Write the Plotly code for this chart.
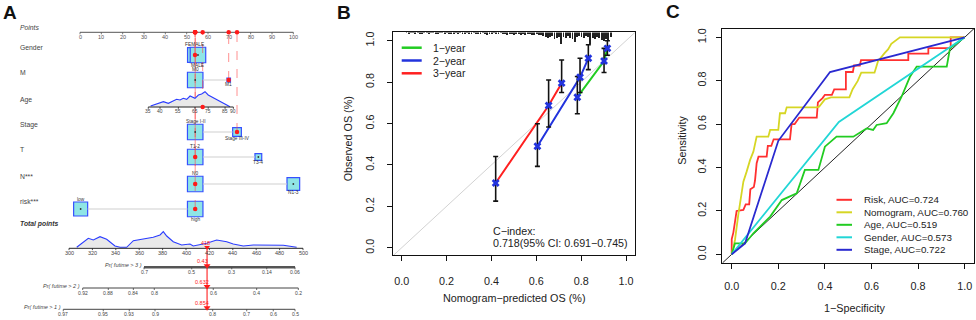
import math
import plotly.graph_objects as go

W, H = 976, 320
FONT = "Liberation Sans, Arial, Helvetica, sans-serif"

# ======================= DATA =======================
# ---- Panel A: nomogram ----
points_ticks = [0, 10, 20, 30, 40, 50, 60, 70, 80, 90, 100]

gender_levels = ["FEMALE", "MALE"]
gender_pts = [53.9, 55.3]
gender_freq = [0.48, 0.52]
m_levels = ["M0", "M1"]
m_pts = [54.0, 69.7]
m_freq = [0.95, 0.05]
stage_levels = ["Stage I-II", "Stage III-IV"]
stage_pts = [54.0, 73.6]
stage_freq = [0.76, 0.24]
t_levels = ["T1-2", "T3-4"]
t_pts = [54.0, 83.6]
t_freq = [0.84, 0.16]
n_levels = ["N0", "N1-3"]
n_pts = [54.0, 100.0]
n_freq = [0.60, 0.40]
risk_levels = ["low", "high"]
risk_pts = [0.3, 54.0]
risk_freq = [0.45, 0.55]

age_tick_labels = ["35", "40", "55", "65", "75", "85", "90"]
age_tick_pts = [32.0, 37.5, 46.1, 53.9, 60.1, 68.0, 71.9]
age_density_pts = [33.1, 36.7, 39.1, 41.4, 43.7, 45.3, 46.9, 48.4, 50.0, 51.6,
                   53.9, 55.5, 57.0, 58.6, 60.1, 61.7, 64.1, 66.4, 68.8, 70.3]
age_density = [1.0, 3.7, 5.3, 3.7, 6.0, 7.7, 7.0, 8.7, 7.7, 11.0,
               8.7, 12.0, 13.0, 15.3, 12.0, 10.3, 7.7, 5.3, 2.0, 0.3]

# patient profile (index of chosen level) and age points
patient_choice = {"Gender": 0, "M": 1, "Stage": 1, "T": 0, "N***": 0, "risk***": 1}
patient_age_pts = 57.5

total_points_ticks = [300, 320, 340, 360, 380, 400, 420, 440, 460, 480, 500]
total_density_tp = [306.6, 312.2, 316.5, 320.8, 326.5, 332.2, 339.3, 343.6, 349.3, 355.0,
                    363.5, 372.0, 377.8, 380.6, 383.5, 389.1, 396.3, 403.4, 406.2, 412.0,
                    417.7, 426.2, 434.8, 440.4, 449.0, 457.5, 469.0, 483.2, 494.6]
total_density = [0.0, 5.6, 9.0, 7.3, 10.6, 8.0, 1.3, 0.0, 0.0, 6.6,
                 8.0, 10.0, 12.3, 15.6, 11.3, 5.6, 2.3, 3.3, 1.3, 2.3,
                 4.0, 7.3, 5.6, 3.3, 1.3, 2.3, 2.0, 2.0, 0.0]
patient_total = 418

pr3_labels = ["0.7", "0.5", "0.3", "0.14", "0.06"]
pr3_tp = [364.1, 404.9, 439.1, 469.0, 493.2]
pr2_labels = ["0.92", "0.88", "0.84", "0.8", "0.6", "0.4", "0.2"]
pr2_tp = [311.7, 333.6, 355.0, 372.9, 423.3, 460.4, 496.0]
pr1_labels = ["0.97", "0.95", "0.93", "0.9", "0.8", "0.7", "0.6", "0.5"]
pr1_tp = [295.1, 329.3, 351.5, 373.5, 422.8, 451.9, 474.6, 493.2]
patient_pr = ["0.43", "0.632", "0.854"]

# ---- Panel B: calibration ----
cal1_pred = [0.783, 0.902, 0.917]
cal1_obs = [0.727, 0.902, 0.963]
cal1_lo = [0.647, 0.846, 0.930]
cal1_hi = [0.827, 0.963, 1.000]
cal2_pred = [0.605, 0.795, 0.832]
cal2_obs = [0.490, 0.823, 0.915]
cal2_lo = [0.393, 0.750, 0.860]
cal2_hi = [0.599, 0.915, 0.980]
cal3_pred = [0.419, 0.655, 0.713]
cal3_obs = [0.313, 0.687, 0.795]
cal3_lo = [0.225, 0.583, 0.750]
cal3_hi = [0.441, 0.810, 0.907]
rug_counts = [1, 2, 1, 1, 2, 1, 2, 2, 1, 1,
              2, 1, 1, 2, 2, 1, 1, 2, 1, 2,
              2, 2, 1, 2, 1, 2, 2, 1, 2, 2,
              1, 2, 2, 2, 1, 2, 3, 2, 2, 1,
              2, 2, 1, 2, 2, 3, 2, 2, 3, 2,
              2, 3, 2, 3, 2, 2, 3, 3, 2, 3,
              3, 4, 5, 6, 5, 4, 7, 6, 5, 12,
              5, 6, 4, 6, 7, 10, 5, 4, 5, 6,
              4, 5, 12, 6, 7, 5, 6, 8, 9, 7,
              8, 5]
rug_bins = [round(0.02 + 0.01 * i, 2) for i in range(len(rug_counts))]
cindex_lines = ["C\u2212index:", "0.718(95% CI: 0.691\u22120.745)"]

# ---- Panel C: ROC ----
roc_names = ["Risk, AUC=0.724", "Nomogram, AUC=0.760", "Age, AUC=0.519",
             "Gender, AUC=0.573", "Stage, AUC=0.722"]
risk_fpr = [0, 0, 0.007, 0.014, 0.021, 0.05, 0.06, 0.075, 0.08, 0.095, 0.1, 0.107, 0.115,
            0.15, 0.155, 0.17, 0.18, 0.25, 0.257, 0.27, 0.29, 0.365, 0.37, 0.39, 0.4, 0.43,
            0.44, 0.49, 0.49, 0.52, 0.525, 0.55, 0.555, 0.758, 0.758, 0.844, 0.844, 0.94,
            0.94, 1.0]
risk_tpr = [0, 0.07, 0.1, 0.16, 0.2, 0.205, 0.23, 0.23, 0.3, 0.31, 0.34, 0.42, 0.45,
            0.45, 0.5, 0.5, 0.53, 0.53, 0.6, 0.6, 0.63, 0.63, 0.7, 0.72, 0.735, 0.735,
            0.76, 0.76, 0.84, 0.84, 0.87, 0.87, 0.895, 0.895, 0.925, 0.925, 0.95, 0.95,
            1.0, 1.0]
nomo_fpr = [0, 0.014, 0.028, 0.043, 0.05, 0.064, 0.079, 0.093, 0.107, 0.157, 0.165, 0.2,
            0.207, 0.229, 0.236, 0.365, 0.375, 0.4, 0.426, 0.505, 0.519, 0.541, 0.556,
            0.613, 0.628, 0.657, 0.671, 0.685, 0.707, 0.722, 1.0]
nomo_tpr = [0, 0.066, 0.181, 0.281, 0.335, 0.381, 0.435, 0.473, 0.542, 0.542, 0.573,
            0.573, 0.65, 0.65, 0.677, 0.677, 0.68, 0.714, 0.723, 0.723, 0.761, 0.799,
            0.837, 0.837, 0.89, 0.928, 0.944, 0.97, 0.989, 1.0, 1.0]
age_fpr = [0, 0.014, 0.057, 0.093, 0.165, 0.215, 0.279, 0.314, 0.372, 0.4, 0.45, 0.465,
           0.522, 0.579, 0.607, 0.622, 0.665, 0.694, 0.729, 0.765, 0.794, 0.923, 0.937, 1.0]
age_tpr = [0, 0.05, 0.05, 0.097, 0.174, 0.25, 0.281, 0.389, 0.389, 0.496, 0.542, 0.542,
           0.542, 0.58, 0.573, 0.596, 0.604, 0.65, 0.726, 0.818, 0.865, 0.865, 0.949, 1.0]
gender_fpr = [0, 0.03, 0.46, 1.0]
gender_tpr = [0, 0.04, 0.61, 1.0]
stage_fpr = [0, 0.057, 0.2, 0.422, 1.0]
stage_tpr = [0, 0.05, 0.523, 0.84, 1.0]

# ======================= STYLE / LAYOUT =======================
C_RED, C_YEL, C_GRN, C_CYA, C_BLU = "#ff3030", "#d6d624", "#22cc22", "#22d6d6", "#2a2ad0"
BOX_FILL, BOX_LINE = "#8fe5e5", "#3650ff"
PINK = "rgba(255,70,70,0.6)"
TXT = 10.8


def pxx(px):
    return px / W


def pxy(py):
    return 1 - py / H


# panel A calibration: points -> pixel, total points -> pixel
PT_PX0, PT_PX_PER = 80.0, 2.1333
TP_PX0, TP_PX_PER = 69.0, 1.17


def px_to_pts(px):
    return (px - PT_PX0) / PT_PX_PER


def tp_to_pts(tp):
    return px_to_pts(TP_PX0 + (tp - 300) * TP_PX_PER)


PXU = 1.0 / PT_PX_PER  # one pixel in points units

ROW_Y = {"Points": 32.3, "Gender": 55.0, "M": 80.0, "Age": 107.0, "Stage": 132.0,
         "T": 157.0, "N***": 184.0, "risk***": 209.0, "Total": 248.3,
         "Pr3": 267.3, "Pr2": 288.0, "Pr1": 309.3}
LABEL_X = 19
BOX_MAX = 15.5

fig = go.Figure()
ann = []
shapes = []


def text(x, y, s, size=11, color="#222", xref="paper", yref="paper",
         xanchor="center", yanchor="middle", angle=0):
    ann.append(dict(x=x, y=y, xref=xref, yref=yref, text=s, showarrow=False,
                    font=dict(size=size, color=color, family=FONT),
                    xanchor=xanchor, yanchor=yanchor, textangle=angle, borderpad=0))


def a_line(xs, ys, color, width=1.0, dash="solid"):
    fig.add_trace(go.Scatter(x=xs, y=ys, mode="lines", xaxis="x", yaxis="y",
                             line=dict(color=color, width=width, dash=dash),
                             hoverinfo="skip", showlegend=False))


def a_marker(xs, ys, color, size=4.5, symbol="circle"):
    fig.add_trace(go.Scatter(x=xs, y=ys, mode="markers", xaxis="x", yaxis="y",
                             marker=dict(color=color, size=size, symbol=symbol, line=dict(width=0)),
                             hoverinfo="skip", showlegend=False))


def a_text(x, y, s, size=5.5, color="#444", xanchor="center"):
    text(x, y, s, size=size, color=color, xref="x", yref="y", xanchor=xanchor)


# ---------------- Panel A ----------------
text(pxx(9.7), pxy(12.5), "<b>A</b>", size=19, color="#111")

# Points axis
py = ROW_Y["Points"]
text(pxx(LABEL_X), pxy(py - 4.5), "<i>Points</i>", size=6.8, color="#444", xanchor="left")
a_line([points_ticks[0], points_ticks[-1]], [py, py], "#555", 1)
for t in points_ticks:
    a_line([t, t], [py, py + 2], "#555", 0.8)
    a_text(t, py + 5, str(t), size=5.5, color="#555")

# dashed pink guide lines from each chosen value to the Points axis
cat_rows = [("Gender", gender_levels, gender_pts, gender_freq),
            ("M", m_levels, m_pts, m_freq),
            ("Stage", stage_levels, stage_pts, stage_freq),
            ("T", t_levels, t_pts, t_freq),
            ("N***", n_levels, n_pts, n_freq),
            ("risk***", risk_levels, risk_pts, risk_freq)]
guide_pts = []
for name, levels, pts, freq in cat_rows:
    p = pts[patient_choice[name]]
    a_line([p, p], [ROW_Y[name], py], PINK, 1, "dash")
    guide_pts.append(p)
a_line([patient_age_pts, patient_age_pts], [ROW_Y["Age"], py], PINK, 1, "dash")
guide_pts.append(patient_age_pts)

# row labels
row_label = {"Gender": "Gender", "M": "M", "Age": "Age", "Stage": "Stage", "T": "T",
             "N***": "N***", "risk***": "risk***"}
for k, lab in row_label.items():
    text(pxx(LABEL_X), pxy(ROW_Y[k] - 7.5), lab, size=6.8, color="#444", xanchor="left")

# categorical rows: boxes
for name, levels, pts, freq in cat_rows:
    y = ROW_Y[name]
    fmax = max(freq)
    sides = [BOX_MAX * math.sqrt(f / fmax) for f in freq]
    if pts[1] - pts[0] > (sides[0] + sides[1]) * PXU / 2:
        a_line([pts[0] + sides[0] / 2 * PXU, pts[1] - sides[1] / 2 * PXU], [y, y], "#cfcfcf", 1)
    for i, (lev, p, s) in enumerate(zip(levels, pts, sides)):
        shapes.append(dict(type="rect", xref="x", yref="y", layer="below",
                           x0=p - s / 2 * PXU, x1=p + s / 2 * PXU, y0=y - s / 2, y1=y + s / 2,
                           fillcolor=BOX_FILL, line=dict(color=BOX_LINE, width=1.2)))
        ly = y - s / 2 - 2.6 if i == 0 else y + s / 2 + 2.6
        a_text(p, ly, lev, size=4.8, color="#333")
    a_marker(pts, [y, y], "#333", size=1.8)
    a_marker([pts[patient_choice[name]]], [y], "#ff1a1a", size=4.5)

# Age row: density + axis
ay = ROW_Y["Age"]
dmax = max(age_density)
poly_x = age_density_pts + age_density_pts[::-1]
poly_y = [ay - d / dmax * 15.3 for d in age_density] + [ay] * len(age_density)
fig.add_trace(go.Scatter(x=poly_x, y=poly_y, mode="lines", fill="toself", fillcolor="#e9e9e9",
                         line=dict(width=0), xaxis="x", yaxis="y", hoverinfo="skip", showlegend=False))
a_line(age_density_pts, [ay - d / dmax * 15.3 for d in age_density], "#2a3cff", 1.1)
a_line([age_tick_pts[0], age_tick_pts[-1]], [ay, ay], "#222", 1)
for t, lab in zip(age_tick_pts, age_tick_labels):
    a_line([t, t], [ay, ay + 1.8], "#222", 0.8)
    a_text(t, ay + 4.2, lab, size=5, color="#444")
a_marker([patient_age_pts], [ay], "#ff1a1a", size=4.5)

# red dots on the Points axis
a_marker(guide_pts, [py] * len(guide_pts), "#ff1a1a", size=4.5)

# Total points
ty = ROW_Y["Total"]
text(pxx(LABEL_X), pxy(224), "<b><i>Total points</i></b>", size=6.8, color="#333", xanchor="left")
tdmax = max(total_density)
tx = [tp_to_pts(v) for v in total_density_tp]
tyy = [ty - 1 - d / tdmax * 15.6 for d in total_density]
fig.add_trace(go.Scatter(x=tx + tx[::-1], y=tyy + [ty - 1] * len(tx), mode="lines", fill="toself",
                         fillcolor="#e9e9e9", line=dict(width=0), xaxis="x", yaxis="y",
                         hoverinfo="skip", showlegend=False))
a_line(tx, tyy, "#2a3cff", 1.1)
a_line([tp_to_pts(total_points_ticks[0]), tp_to_pts(total_points_ticks[-1])], [ty, ty], "#222", 1)
for t in total_points_ticks:
    a_line([tp_to_pts(t), tp_to_pts(t)], [ty, ty + 1.8], "#222", 0.8)
    a_text(tp_to_pts(t), ty + 4.6, str(t), size=5.5, color="#444")

# probability axes
pr_axes = [("Pr3", "Pr( futime &gt; 3 )", pr3_labels, pr3_tp, 2.4, "#555"),
           ("Pr2", "Pr( futime &gt; 2 )", pr2_labels, pr2_tp, 1.0, "#444"),
           ("Pr1", "Pr( futime &gt; 1 )", pr1_labels, pr1_tp, 1.0, "#444")]
ptot = tp_to_pts(patient_total)
a_line([ptot, ptot], [ty, ROW_Y["Pr1"]], "#ff2020", 1.1)
for (key, title, labs, tps, lw, col), pv in zip(pr_axes, patient_pr):
    yy = ROW_Y[key]
    x0, x1 = tp_to_pts(tps[0]), tp_to_pts(tps[-1])
    a_line([x0, x1], [yy, yy], col, lw)
    for t, lab in zip(tps, labs):
        a_line([tp_to_pts(t), tp_to_pts(t)], [yy, yy + 2], "#444", 0.8)
        a_text(tp_to_pts(t), yy + 4.6, lab, size=5, color="#444")
    text(x0 - 1.2 * PXU, yy - 2.3, "<i>" + title + "</i>", size=5.5, color="#444",
         xref="x", yref="y", xanchor="right")
    a_text(ptot - 5 * PXU, yy - 6.5, pv, size=5.5, color="#ff2020")
    a_marker([ptot], [yy - 1.5], "#ff1a1a", size=6, symbol="triangle-down")
a_marker([ptot], [ty - 1], "#ff1a1a", size=5, symbol="triangle-down")
a_text(ptot - 1.5 * PXU, ty - 5.5, str(patient_total), size=5.5, color="#ff2020")

# ---------------- Panel B ----------------
text(pxx(344), pxy(12.5), "<b>B</b>", size=19, color="#111")
B = dict(xaxis="x2", yaxis="y2", hoverinfo="skip", showlegend=False)
fig.add_trace(go.Scatter(x=[-0.04, 1.04], y=[-0.04, 1.04], mode="lines",
                         line=dict(color="#d2d2d2", width=1), **B))
RUG_UNIT = 1.0 / 207.0
fig.add_trace(go.Bar(x=rug_bins, y=[-c * RUG_UNIT for c in rug_counts], base=1.04, width=0.004,
                     marker=dict(color="#222", line=dict(width=0)), **B))
for xs, ys, col in [(cal1_pred, cal1_obs, C_GRN), (cal2_pred, cal2_obs, "#2233dd"),
                    (cal3_pred, cal3_obs, "#ff2020")]:
    fig.add_trace(go.Scatter(x=xs, y=ys, mode="lines", line=dict(color=col, width=2), **B))
for xs, ys, lo, hi in [(cal1_pred, cal1_obs, cal1_lo, cal1_hi),
                       (cal2_pred, cal2_obs, cal2_lo, cal2_hi),
                       (cal3_pred, cal3_obs, cal3_lo, cal3_hi)]:
    fig.add_trace(go.Scatter(x=xs, y=ys, mode="markers", marker=dict(color="rgba(0,0,0,0)", size=2),
                             error_y=dict(type="data", symmetric=False,
                                          array=[h - o for h, o in zip(hi, ys)],
                                          arrayminus=[o - l for o, l in zip(ys, lo)],
                                          color="#111", thickness=1.6, width=2.5), **B))
    fig.add_trace(go.Scatter(x=xs, y=ys, mode="markers",
                             marker=dict(symbol="x", color="#2233dd", size=7, line=dict(width=0)), **B))

# legend B
for i, (lab, col) in enumerate([("1\u2212year", C_GRN), ("2\u2212year", "#2233dd"),
                                ("3\u2212year", "#ff2020")]):
    yy = 47.7 + 12.8 * i
    shapes.append(dict(type="line", xref="paper", yref="paper", x0=pxx(401.7), x1=pxx(421.7),
                       y0=pxy(yy), y1=pxy(yy), line=dict(color=col, width=2.5)))
    text(pxx(431.7), pxy(yy), lab, size=10.5, color="#222", xanchor="left")
text(pxx(491.7), pxy(231), cindex_lines[0], size=10.7, color="#222", xanchor="left")
text(pxx(491.7), pxy(243), cindex_lines[1], size=10.7, color="#222", xanchor="left")
text(pxx(514), pxy(298.3), "Nomogram\u2212predicted OS (%)", size=TXT, color="#222")
text(pxx(348.3), pxy(139), "Observed OS (%)", size=TXT, color="#222", angle=-90)

# ---------------- Panel C ----------------
text(pxx(673), pxy(11), "<b>C</b>", size=19, color="#111")
Cc = dict(xaxis="x3", yaxis="y3", hoverinfo="skip", showlegend=False)
fig.add_trace(go.Scatter(x=[-0.04, 1.04], y=[-0.04, 1.04], mode="lines",
                         line=dict(color="#222", width=1), **Cc))
roc = [(risk_fpr, risk_tpr, C_RED), (nomo_fpr, nomo_tpr, C_YEL), (age_fpr, age_tpr, C_GRN),
       (gender_fpr, gender_tpr, C_CYA), (stage_fpr, stage_tpr, C_BLU)]
for fx, fy, col in roc:
    fig.add_trace(go.Scatter(x=fx, y=fy, mode="lines", line=dict(color=col, width=1.8), **Cc))
for i, (lab, (_, _, col)) in enumerate(zip(roc_names, roc)):
    yy = 199.8 + 12.5 * i
    shapes.append(dict(type="line", xref="paper", yref="paper", x0=pxx(836.5), x1=pxx(852),
                       y0=pxy(yy), y1=pxy(yy), line=dict(color=col, width=2)))
    text(pxx(863.3), pxy(yy), lab, size=9.8, color="#222", xanchor="left")
text(pxx(855), pxy(308), "1\u2212Specificity", size=TXT, color="#222")
text(pxx(681.7), pxy(140), "Sensitivity", size=TXT, color="#222", angle=-90)

# ---------------- axes ----------------
ticks01 = [0, 0.2, 0.4, 0.6, 0.8, 1.0]
tick_txt = ["0.0", "0.2", "0.4", "0.6", "0.8", "1.0"]


def r_axis(domain, rng, anchor, is_y, standoff):
    d = dict(domain=domain, range=rng, anchor=anchor, tickmode="array", tickvals=ticks01,
             ticktext=tick_txt, ticks="outside", ticklen=5, tickwidth=1, tickcolor="#111",
             showline=True, mirror=True, linecolor="#111", linewidth=1, showgrid=False,
             zeroline=False, tickfont=dict(size=TXT, color="#222", family=FONT),
             ticklabelstandoff=standoff)
    if is_y:
        d["tickangle"] = -90
    return d


fig.update_layout(
    width=W, height=H, margin=dict(l=0, r=0, t=0, b=0),
    paper_bgcolor="white", plot_bgcolor="white", showlegend=False,
    font=dict(family=FONT),
    xaxis=dict(domain=[0, 320 / W], range=[px_to_pts(0), px_to_pts(320)], visible=False,
               anchor="y"),
    yaxis=dict(domain=[0, 1], range=[320, 0], visible=False, anchor="x"),
    xaxis2=r_axis([pxx(392.7), pxx(635)], [-0.04, 1.04], "y2", False, 11),
    yaxis2=r_axis([pxy(255), pxy(32.4)], [-0.035, 1.04], "x2", True, 8),
    xaxis3=r_axis([pxx(722.4), pxx(974)], [-0.04, 1.04], "y3", False, 8),
    yaxis3=r_axis([pxy(263), pxy(28.6)], [-0.04, 1.04], "x3", True, 6),
    annotations=ann, shapes=shapes, bargap=0,
)

fig.write_html("out.html", config={"displayModeBar": False},
               post_script="document.body.style.margin='0';document.body.style.overflow='hidden';")
